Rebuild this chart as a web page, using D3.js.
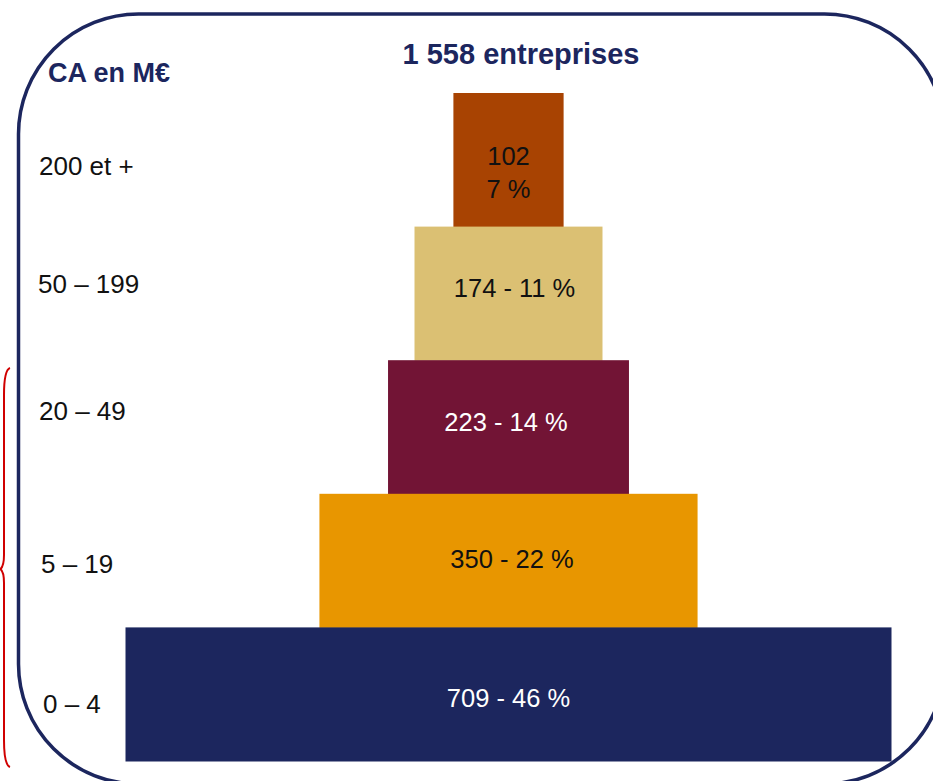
<!DOCTYPE html>
<html>
<head>
<meta charset="utf-8">
<script src="https://cdn.jsdelivr.net/npm/d3@7"></script>
<style>
  html, body { margin: 0; padding: 0; background: #fff; }
  svg { display: block; font-family: "Liberation Sans", Arial, sans-serif; }
</style>
</head>
<body>
<svg id="chart" width="933" height="781"></svg>
<script>
// ---- data ----
const categories = ["200 et +", "50 – 199", "20 – 49", "5 – 19", "0 – 4"];
const counts = [102, 174, 223, 350, 709];
const shares = [7, 11, 14, 22, 46];
const totalLabel = "1 558 entreprises";
const axisTitle = "CA en M€";

// ---- style / layout ----
const barColors = ["#A84302", "#DBC073", "#721435", "#E89600", "#1C265E"];
const textColors = ["#111111", "#111111", "#ffffff", "#111111", "#ffffff"];
const navy = "#1C265E";
const cx = 508.5;
const catLabelDy = [15.5, -0.5, -7, 12, 19];
const catLabelX = [39, 38, 39, 41, 43];
const valDx = [0, 6, -2.5, 3.5, 0];
const valDy = [0, 3.5, 4, 7, 13];

const svg = d3.select("#chart");

// frame
svg.append("rect")
  .attr("x", 18.5).attr("y", 14)
  .attr("width", 926).attr("height", 770)
  .attr("rx", 120).attr("ry", 120)
  .attr("fill", "none").attr("stroke", navy).attr("stroke-width", 3.5);

// scales
const y = d3.scaleBand().domain(categories).range([93, 761]).padding(0);
const w = d3.scaleLinear().domain([0, 709]).range([0, 766]);

// bars
svg.selectAll("rect.bar")
  .data(categories)
  .join("rect")
  .attr("class", "bar")
  .attr("x", (d, i) => cx - w(counts[i]) / 2)
  .attr("y", d => y(d))
  .attr("width", (d, i) => w(counts[i]))
  .attr("height", y.bandwidth() + 0.5)
  .attr("fill", (d, i) => barColors[i]);

// value labels
categories.forEach((c, i) => {
  const mid = y(c) + y.bandwidth() / 2;
  const t = svg.append("text")
    .attr("text-anchor", "middle")
    .attr("font-size", 25.5)
    .attr("fill", textColors[i]);
  if (i === 0) {
    t.append("tspan").attr("x", cx + valDx[i]).attr("y", mid + 5.5).text(String(counts[i]));
    t.append("tspan").attr("x", cx + valDx[i]).attr("y", mid + 38.5).text(shares[i] + " %");
  } else {
    t.attr("x", cx + valDx[i]).attr("y", mid + valDy[i])
      .text(counts[i] + " - " + shares[i] + " %");
  }
});

// category labels
svg.selectAll("text.cat")
  .data(categories)
  .join("text")
  .attr("class", "cat")
  .attr("x", (d, i) => catLabelX[i])
  .attr("y", (d, i) => y(d) + y.bandwidth() / 2 + catLabelDy[i])
  .attr("font-size", 26)
  .attr("fill", "#111")
  .text(d => d);

// titles
svg.append("text")
  .attr("x", 521).attr("y", 64)
  .attr("text-anchor", "middle")
  .attr("font-size", 29).attr("font-weight", "bold")
  .attr("fill", navy)
  .text(totalLabel);

svg.append("text")
  .attr("x", 48).attr("y", 82)
  .attr("font-size", 27).attr("font-weight", "bold")
  .attr("fill", navy)
  .text(axisTitle);

// red brace
svg.append("path")
  .attr("d", "M10,368 Q4,370 4,395 L4,555 Q4,566 0.5,569 Q4,572 4,583 L4,740 Q4,765 10,767")
  .attr("fill", "none")
  .attr("stroke", "#D00000")
  .attr("stroke-width", 2);
</script>
</body>
</html>
